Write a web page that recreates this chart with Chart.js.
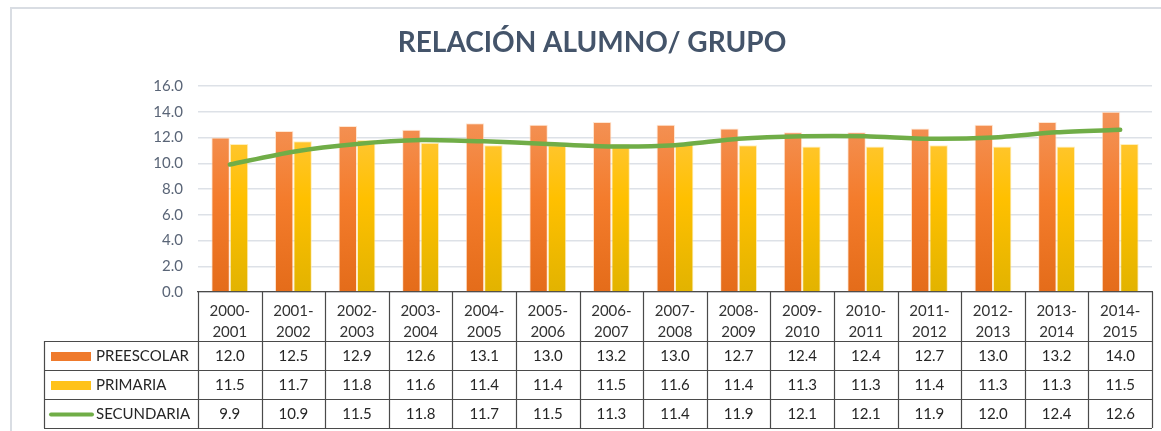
<!DOCTYPE html>
<html>
<head>
<meta charset="utf-8">
<script src="https://cdn.jsdelivr.net/npm/chart.js@4/dist/chart.umd.min.js"></script>
<style>
  html, body { margin: 0; padding: 0; background: #fff; }
  canvas { display: block; }
</style>
</head>
<body>
<canvas id="ratioChart" width="1161" height="431"></canvas>
<script>
const categories = [
  ['2000-', '2001'], ['2001-', '2002'], ['2002-', '2003'], ['2003-', '2004'], ['2004-', '2005'],
  ['2005-', '2006'], ['2006-', '2007'], ['2007-', '2008'], ['2008-', '2009'], ['2009-', '2010'],
  ['2010-', '2011'], ['2011-', '2012'], ['2012-', '2013'], ['2013-', '2014'], ['2014-', '2015']
];
const preescolar = [12.0, 12.5, 12.9, 12.6, 13.1, 13.0, 13.2, 13.0, 12.7, 12.4, 12.4, 12.7, 13.0, 13.2, 14.0];
const primaria = [11.5, 11.7, 11.8, 11.6, 11.4, 11.4, 11.5, 11.6, 11.4, 11.3, 11.3, 11.4, 11.3, 11.3, 11.5];
const secundaria = [9.9, 10.9, 11.5, 11.8, 11.7, 11.5, 11.3, 11.4, 11.9, 12.1, 12.1, 11.9, 12.0, 12.4, 12.6];

const FONT = 'Lato, "Open Sans", sans-serif';

// vertical gradient over the plot area
function barGradient(stops) {
  return function(context) {
    const area = context.chart.chartArea;
    if (!area) return stops[1];
    const g = context.chart.ctx.createLinearGradient(0, area.top + 20, 0, area.bottom);
    g.addColorStop(0, stops[0]);
    g.addColorStop(0.5, stops[1]);
    g.addColorStop(1, stops[2]);
    return g;
  };
}

// frame + data table under the x axis
const dataTable = {
  id: 'dataTable',
  beforeDraw(chart) {
    const ctx = chart.ctx;
    ctx.save();
    ctx.strokeStyle = '#d9dde3';
    ctx.lineWidth = 2;
    ctx.beginPath();
    ctx.moveTo(11, chart.height);
    ctx.lineTo(11, 8);
    ctx.lineTo(chart.width, 8);
    ctx.stroke();
    ctx.restore();
  },
  afterDraw(chart) {
    const ctx = chart.ctx;
    const area = chart.chartArea;
    const x = chart.scales.x;
    const n = categories.length;
    const colW = (area.right - area.left) / n;
    const headBottom = area.bottom + 49;
    const rowH = 29;
    const tableLeft = 44;
    const rows = [
      { label: 'PREESCOLAR', values: preescolar, key: 'bar', color: '#ef7a2c' },
      { label: 'PRIMARIA', values: primaria, key: 'bar', color: '#ffc21a' },
      { label: 'SECUNDARIA', values: secundaria, key: 'line', color: '#70ad47' }
    ];
    const tableBottom = headBottom + rows.length * rowH;

    ctx.save();
    ctx.strokeStyle = '#4a4a4a';
    ctx.lineWidth = 1.2;
    ctx.beginPath();
    for (let i = 0; i <= n; i++) {
      const px = Math.round(area.left + i * colW) + 0.5;
      ctx.moveTo(px, area.bottom);
      ctx.lineTo(px, tableBottom);
    }
    ctx.moveTo(tableLeft + 0.5, headBottom);
    ctx.lineTo(tableLeft + 0.5, tableBottom);
    for (let r = 0; r <= rows.length; r++) {
      const py = Math.round(headBottom + r * rowH) + 0.5;
      ctx.moveTo(tableLeft, py);
      ctx.lineTo(area.right, py);
    }
    ctx.stroke();

    ctx.font = '15px ' + FONT;
    ctx.fillStyle = '#262626';
    ctx.textBaseline = 'middle';
    rows.forEach(function(row, r) {
      const mid = headBottom + r * rowH + rowH / 2 + 1;
      if (row.key === 'bar') {
        ctx.fillStyle = row.color;
        ctx.fillRect(51, mid - 4.5, 40, 9);
      } else {
        ctx.strokeStyle = row.color;
        ctx.lineWidth = 4;
        ctx.lineCap = 'round';
        ctx.beginPath();
        ctx.moveTo(51, mid);
        ctx.lineTo(92, mid);
        ctx.stroke();
      }
      ctx.fillStyle = '#262626';
      ctx.textAlign = 'left';
      ctx.fillText(row.label, 96, mid);
      ctx.textAlign = 'center';
      row.values.forEach(function(v, i) {
        ctx.fillText(v.toFixed(1), x.getPixelForValue(i), mid);
      });
    });
    ctx.restore();
  }
};

new Chart(document.getElementById('ratioChart').getContext('2d'), {
  type: 'bar',
  data: {
    labels: categories,
    datasets: [{
      type: 'line',
      label: 'SECUNDARIA',
      data: secundaria,
      borderColor: '#70ad47',
      borderWidth: 4.5,
      borderCapStyle: 'round',
      pointRadius: 0,
      tension: 0.25,
      fill: false
    }, {
      label: 'PREESCOLAR',
      data: preescolar,
      backgroundColor: barGradient(['#f3955c', '#f47c2c', '#e46c1a']),
      borderColor: 'rgba(255, 225, 200, 0.8)',
      borderWidth: 1,
      borderSkipped: 'bottom',
      categoryPercentage: 0.58,
      barPercentage: 1.0
    }, {
      label: 'PRIMARIA',
      data: primaria,
      backgroundColor: barGradient(['#ffc94a', '#ffc000', '#e2b300']),
      borderColor: 'rgba(255, 235, 170, 0.8)',
      borderWidth: 1,
      borderSkipped: 'bottom',
      categoryPercentage: 0.58,
      barPercentage: 1.0
    }]
  },
  options: {
    responsive: false,
    animation: false,
    layout: {
      padding: { left: 32, right: 9, top: 0, bottom: 3 }
    },
    plugins: {
      legend: { display: false },
      tooltip: { enabled: false },
      title: {
        display: true,
        text: 'RELACIÓN ALUMNO/ GRUPO',
        color: '#44546a',
        font: { family: FONT, size: 28, weight: 'bold', lineHeight: 1.2 },
        padding: { top: 26, bottom: 26.4 }
      }
    },
    scales: {
      x: {
        grid: { display: false },
        border: { display: true, color: '#4a4a4a', width: 1.2 },
        ticks: {
          color: '#333333',
          font: { family: FONT, size: 15, lineHeight: 1.4 },
          padding: 1,
          maxRotation: 0,
          autoSkip: false
        },
        afterFit(scale) { scale.height = 136; }
      },
      y: {
        min: 0,
        max: 16,
        grid: { color: '#dde1e7', lineWidth: 1.5, drawTicks: false },
        border: { display: false },
        ticks: {
          stepSize: 2,
          color: '#5a6577',
          font: { family: FONT, size: 15 },
          padding: 15,
          callback: function(v) { return v.toFixed(1); }
        },
        afterFit(scale) { scale.width = 166; }
      }
    }
  },
  plugins: [dataTable]
});
</script>
</body>
</html>
